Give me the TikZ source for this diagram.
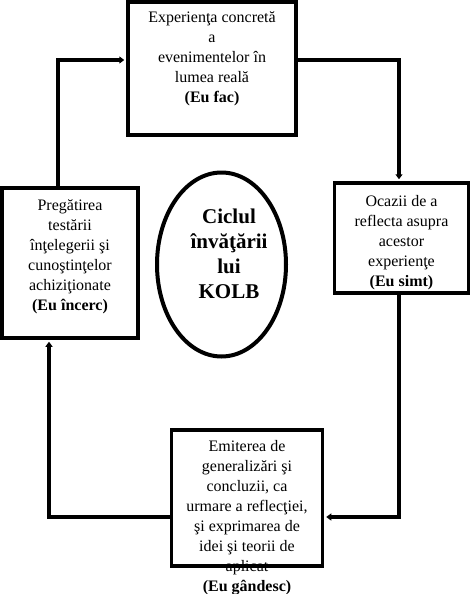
\documentclass[tikz,border=0pt]{standalone}
\usepackage{fontspec}
\setmainfont{Liberation Serif}
\usetikzlibrary{arrows.meta,shapes.geometric}
\begin{document}
\begin{tikzpicture}[x=1pt,y=-1pt,
  boxstyle/.style={draw,line width=3.5pt,inner sep=0pt,minimum width=#1},
  txt/.style={anchor=north,align=center,inner sep=0pt,font=\fontsize{16}{20}\selectfont},
  conn/.style={line width=4.5pt,-{Triangle[length=5pt,width=7pt]},shorten >=2pt}]
\useasboundingbox (0,0) rectangle (471,594);
\node[boxstyle=168pt,minimum height=133pt] (top) at (212,68.5) {};
\node[boxstyle=134pt,minimum height=110pt] (right) at (401.5,238) {};
\node[boxstyle=136pt,minimum height=150pt] (left) at (70,263) {};
\node[boxstyle=151pt,minimum height=136pt] (bottom) at (247,498) {};
\node[draw,ellipse,line width=4pt,minimum width=129pt,minimum height=184pt,inner sep=0pt] (ell) at (221.5,264.5) {};
\node[txt] (ttop) at ([yshift=-11pt]top.north) {Experienţa concretă\\a\\evenimentelor în\\lumea reală\\\textbf{(Eu fac)}};
\node[txt] (tright) at ([yshift=-14pt]right.north) {Ocazii de a\\reflecta asupra\\acestor\\experienţe\\\textbf{(Eu simt)}};
\node[txt] (tleft) at ([yshift=-13pt]left.north) {Pregătirea\\testării\\înţelegerii şi\\cunoştinţelor\\achiziţionate\\\textbf{(Eu încerc)}};
\node[txt] (tbottom) at ([yshift=-12pt]bottom.north) {Emiterea de\\generalizări şi\\concluzii, ca\\urmare a reflecţiei,\\şi exprimarea de\\idei şi teorii de\\aplicat\\\textbf{(Eu gândesc)}};
\node[align=center,inner sep=0pt,font=\fontsize{21}{25}\selectfont\bfseries] (title) at (229,254) {Ciclul\\învăţării\\lui\\KOLB};
\coordinate (c1) at (58,60);
\coordinate (c2) at (399,60);
\coordinate (c3) at (399,517);
\coordinate (c4) at (49,517);
\draw[conn] (left.north -| c1) |- (top.west |- c1);
\draw[conn] (top.east |- c2) -| (right.north -| c2);
\draw[conn] (right.south -| c3) |- (bottom.east |- c3);
\draw[conn] (bottom.west |- c4) -| (left.south -| c4);
\end{tikzpicture}
\end{document}
